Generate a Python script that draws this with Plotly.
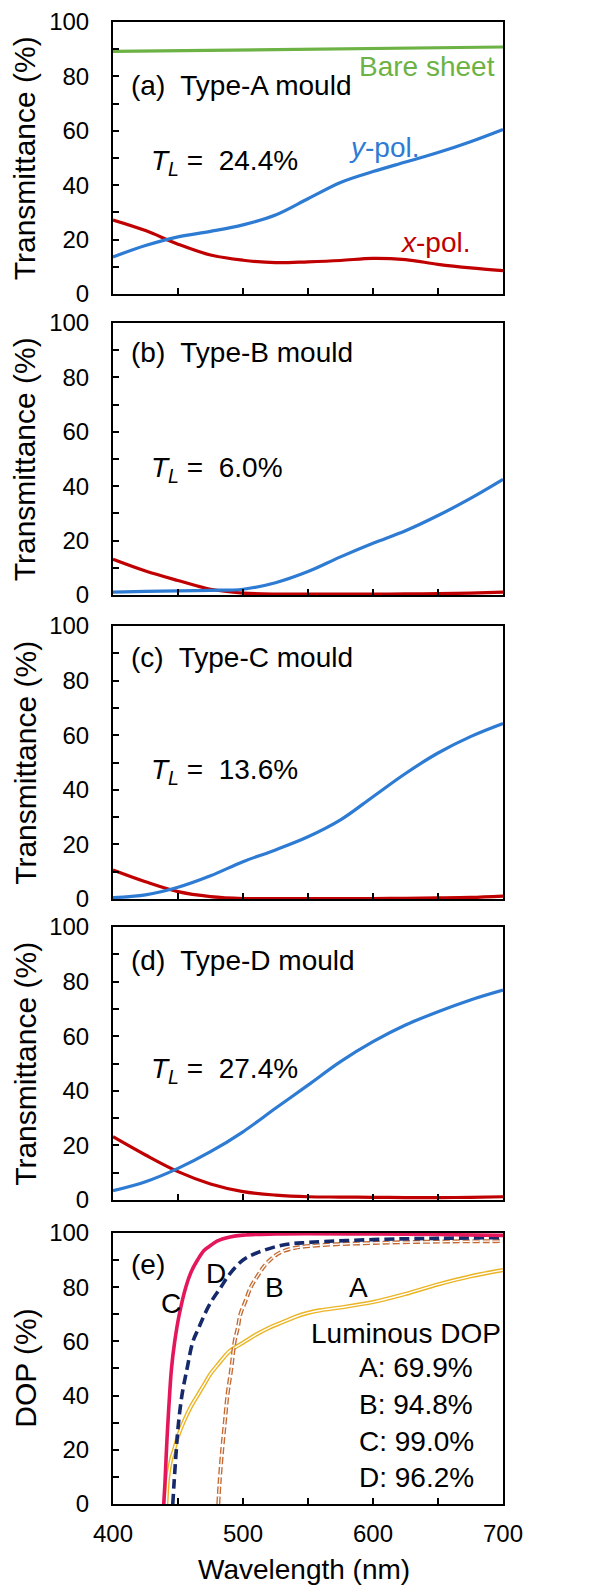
import plotly.graph_objects as go

# ---------------- data ----------------
wl = [400, 425, 450, 475, 500, 525, 550, 575, 600, 625, 650, 675, 700]

# (a) Type-A mould
a_x_pol = [27.2, 23.3, 18.3, 14.3, 12.4, 11.5, 11.8, 12.3, 13.1, 12.6, 10.9, 9.6, 8.6]
a_y_pol = [13.6, 17.8, 21.0, 23.0, 25.4, 29.0, 35.0, 41.0, 45.0, 48.5, 52.0, 56.0, 60.5]
bare_wl = [400, 500, 600, 700]
bare = [89.2, 89.8, 90.3, 90.8]

# (b) Type-B mould
b_x_pol = [13.1, 8.8, 5.3, 2.1, 0.7, 0.3, 0.3, 0.3, 0.3, 0.4, 0.5, 0.7, 1.0]
b_y_pol = [1.0, 1.3, 1.5, 1.7, 2.1, 4.5, 8.6, 14.0, 19.0, 23.6, 29.2, 35.5, 42.5]

# (c) Type-C mould
c_x_pol = [10.6, 6.3, 2.7, 0.9, 0.2, 0.2, 0.2, 0.2, 0.2, 0.3, 0.4, 0.6, 1.1]
c_y_pol = [0.5, 1.5, 4.3, 8.5, 13.7, 18.0, 22.8, 29.0, 37.5, 46.0, 53.5, 59.5, 64.3]

# (d) Type-D mould
d_x_pol = [23.2, 16.5, 10.4, 5.9, 3.1, 1.8, 1.2, 1.1, 1.0, 0.9, 0.9, 1.0, 1.2]
d_y_pol = [3.4, 6.7, 11.6, 17.7, 25.0, 33.6, 42.1, 50.7, 58.0, 64.1, 69.0, 73.3, 76.9]

TL_values = ["24.4%", "6.0%", "13.6%", "27.4%"]
panel_labels = ["(a) Type-A mould", "(b) Type-B mould", "(c) Type-C mould", "(d) Type-D mould"]

# (e) DOP
dopA_wl = [441, 442, 443, 445, 447, 450, 455, 460, 465, 470, 475, 480, 490, 500, 510, 520,
           530, 540, 550, 560, 575, 600, 625, 650, 675, 700]
dopA = [0, 8, 12, 17, 20, 25, 31, 36, 40, 44, 48, 51, 56.5, 59.5, 62.5, 65,
        67, 69, 70.5, 71.5, 72.5, 74.5, 77.5, 81, 84, 86.3]
dopB_wl = [481, 482, 484, 486, 488, 491, 493.6, 496, 498, 502, 506, 511, 516.7, 523, 529.5,
           540, 560, 600, 650, 700]
dopB = [0, 8, 20, 30, 40, 50, 60, 65, 70, 75, 80, 84, 88, 91, 93, 94.5, 95.5, 96.3, 96.8, 97.0]
dopC_wl = [439, 440, 441, 442, 443.5, 445, 447.5, 451, 456, 460, 465, 470, 474, 480, 490,
           500, 525, 550, 600, 650, 700]
dopC = [0, 8, 18.7, 28, 40, 50, 60, 70, 80, 85.5, 90, 93.5, 95, 97, 98.5, 99.2, 99.6, 99.7,
        99.6, 99.4, 99.1]
dopD_wl = [446, 447, 448.7, 450, 453, 457, 461.5, 466, 470.5, 476, 483, 490, 500, 510, 530,
           550, 580, 620, 650, 700]
dopD = [0, 8, 20, 28, 40, 50, 60, 65, 70, 75, 80, 85, 90, 92.5, 95.5, 96.5, 97.2, 97.8, 98.0, 98.3]
lum_dop = ["A: 69.9%", "B: 94.8%", "C: 99.0%", "D: 96.2%"]

# ---------------- style ----------------
RED = "#C00000"
BLUE = "#2E7BD3"
GREEN = "#6DB244"
CRIMSON = "#E4175A"
NAVY = "#15296B"
BROWN = "#C46A32"
GOLD = "#EBB424"
FONT = "Liberation Sans, Arial, sans-serif"

fig = go.Figure()

domains = [(0.8165, 1.0), (0.6134, 0.7969), (0.4082, 0.5924), (0.2051, 0.3893), (0.0, 0.1829)]

tr_sets = [(a_x_pol, a_y_pol), (b_x_pol, b_y_pol), (c_x_pol, c_y_pol), (d_x_pol, d_y_pol)]
for i, (xp, yp) in enumerate(tr_sets):
    n = "" if i == 0 else str(i + 1)
    if i == 0:
        fig.add_trace(go.Scatter(x=bare_wl, y=bare, mode="lines", line=dict(color=GREEN, width=3.2),
                                 xaxis="x" + n, yaxis="y" + n))
    fig.add_trace(go.Scatter(x=wl, y=xp, mode="lines", line=dict(color=RED, width=3.2, shape="spline"),
                             xaxis="x" + n, yaxis="y" + n))
    fig.add_trace(go.Scatter(x=wl, y=yp, mode="lines", line=dict(color=BLUE, width=3.2, shape="spline"),
                             xaxis="x" + n, yaxis="y" + n))

# panel e
fig.add_trace(go.Scatter(x=dopA_wl, y=dopA, mode="lines", line=dict(color=GOLD, width=4.2, shape="spline"),
                         xaxis="x5", yaxis="y5"))
fig.add_trace(go.Scatter(x=dopA_wl, y=dopA, mode="lines", line=dict(color="white", width=1.4, shape="spline"),
                         xaxis="x5", yaxis="y5"))
fig.add_trace(go.Scatter(x=dopB_wl, y=dopB, mode="lines",
                         line=dict(color=BROWN, width=4.0, shape="spline", dash="7px,3px"),
                         xaxis="x5", yaxis="y5"))
fig.add_trace(go.Scatter(x=dopB_wl, y=dopB, mode="lines",
                         line=dict(color="white", width=1.3, shape="spline", dash="7px,3px"),
                         xaxis="x5", yaxis="y5"))
fig.add_trace(go.Scatter(x=dopD_wl, y=dopD, mode="lines",
                         line=dict(color=NAVY, width=3.6, shape="spline", dash="10px,5px"),
                         xaxis="x5", yaxis="y5"))
fig.add_trace(go.Scatter(x=dopC_wl, y=dopC, mode="lines", line=dict(color=CRIMSON, width=3.6, shape="spline"),
                         xaxis="x5", yaxis="y5"))

tickfont = dict(family=FONT, size=24, color="black")
layout = dict(
    width=597, height=1577, autosize=False,
    margin=dict(l=105, r=102, t=14, b=81, autoexpand=False),
    paper_bgcolor="white", plot_bgcolor="white",
    showlegend=False,
    font=dict(family=FONT, color="black"),
)
minor_common = dict(ticks="inside", ticklen=6, tickwidth=1.5, tickcolor="black", showgrid=False)
for i, (d0, d1) in enumerate(domains):
    n = "" if i == 0 else str(i + 1)
    xa = dict(domain=[0, 1], range=[400, 700], anchor="y" + n, automargin=False,
              showline=True, linecolor="black", linewidth=2, mirror=True,
              ticks="inside", ticklen=6, tickwidth=1.5, tickcolor="black",
              tick0=400, dtick=100 if i == 4 else 50,
              minor=dict(dtick=50, **minor_common),
              showticklabels=(i == 4), tickfont=tickfont, ticklabelstandoff=7,
              showgrid=False, zeroline=False)
    ya = dict(domain=[d0, d1], range=[0, 100], anchor="x" + n, automargin=False,
              showline=True, linecolor="black", linewidth=2, mirror=True,
              ticks="inside", ticklen=6, tickwidth=1.5, tickcolor="black",
              tick0=0, dtick=20, minor=dict(dtick=10, **minor_common),
              tickfont=tickfont, ticklabelstandoff=17,
              showgrid=False, zeroline=False)
    layout["xaxis" + n] = xa
    layout["yaxis" + n] = ya
fig.update_layout(**layout)

ann = []
def A(text, x, y, ref, xanchor="left", color="black", size=28):
    ann.append(dict(text=text, x=x, y=y, xref="x" + ref, yref="y" + ref, showarrow=False,
                    xanchor=xanchor, yanchor="middle", font=dict(family=FONT, size=size, color=color)))

TL_y = [48.5, 46.0, 46.7, 47.6]
lab_y = [76.8, 89.3, 88.6, 87.9]
for i in range(4):
    n = "" if i == 0 else str(i + 1)
    A(panel_labels[i].replace(") ", ")\u00a0 "), 412, lab_y[i], n)
    A("<i>T</i><sub><i>L</i></sub> =\u00a0 " + TL_values[i], 427.5, TL_y[i], n)
A("Bare sheet", 695, 83.5, "", xanchor="right", color=GREEN)
A("<i>y</i>-pol.", 580, 54, "", color=BLUE)
A("<i>x</i>-pol.", 619, 19, "", color=RED)

A("(e)", 412, 88.2, "5")
A("C", 444.6, 74, "5", xanchor="center")
A("D", 479, 85, "5", xanchor="center")
A("B", 524.6, 80, "5", xanchor="center")
A("A", 589, 79.7, "5", xanchor="center")
A("Luminous DOP", 551, 63, "5")
lum_y = [50.5, 36.8, 23.2, 9.6]
for t, yy in zip(lum_dop, lum_y):
    A(t, 588, yy, "5")

# axis titles as annotations (paper coordinates)
for i, (d0, d1) in enumerate(domains):
    ann.append(dict(text="DOP (%)" if i == 4 else "Transmittance (%)",
                    x=-0.225, y=(d0 + d1) / 2, xref="paper", yref="paper", textangle=-90,
                    showarrow=False, xanchor="center", yanchor="middle",
                    font=dict(family=FONT, size=30, color="black")))
ann.append(dict(text="Wavelength (nm)", x=0.49, y=-0.0445, xref="paper", yref="paper",
                showarrow=False, xanchor="center", yanchor="middle",
                font=dict(family=FONT, size=28, color="black")))
fig.update_layout(annotations=ann)

fig.write_html("out.html")
